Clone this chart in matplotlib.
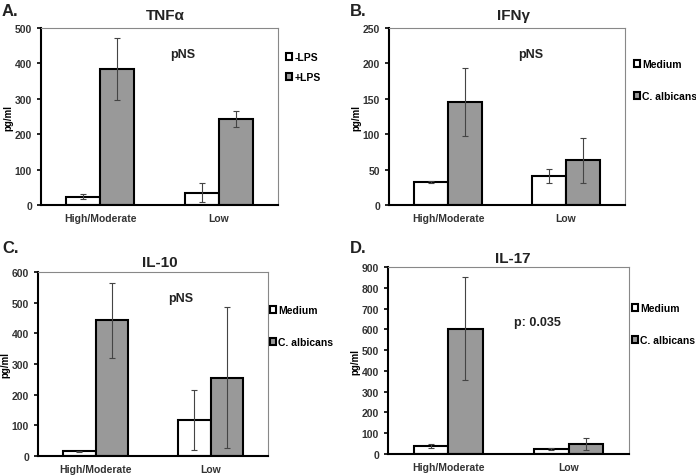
import matplotlib
matplotlib.use("Agg")
import matplotlib.pyplot as plt
import numpy as np

plt.rcParams["font.family"] = ["Liberation Sans", "DejaVu Sans"]
plt.rcParams["font.weight"] = "bold"

categories = ["High/Moderate", "Low"]

# A. TNFa
tnf_minus = [23, 35]
tnf_minus_lo = [16, 8]
tnf_minus_hi = [32, 62]
tnf_plus = [385, 243]
tnf_plus_lo = [298, 221]
tnf_plus_hi = [473, 266]

# B. IFNg
ifn_med = [32, 41]
ifn_med_lo = [31, 31]
ifn_med_hi = [34, 51]
ifn_ca = [145, 63]
ifn_ca_lo = [98, 31]
ifn_ca_hi = [193, 95]

# C. IL-10
il10_med = [15, 117]
il10_med_lo = [13, 18]
il10_med_hi = [17, 215]
il10_ca = [443, 256]
il10_ca_lo = [320, 25]
il10_ca_hi = [563, 486]

# D. IL-17
il17_med = [38, 25]
il17_med_lo = [30, 20]
il17_med_hi = [46, 30]
il17_ca = [603, 47]
il17_ca_lo = [358, 17]
il17_ca_hi = [850, 77]

fig = plt.figure(figsize=(6.96, 4.77), dpi=100)

panels = [
    dict(rect=[0.0589, 0.568, 0.3405, 0.371], letter="A.", title="TNF\u03b1", ymax=500, step=100,
         s1=(tnf_minus, tnf_minus_lo, tnf_minus_hi), s2=(tnf_plus, tnf_plus_lo, tnf_plus_hi),
         labels=["-LPS", "+LPS"], note="pNS", note_xy=(183, 55), leg_xy=(286, 53), spacing=0.95,
         letter_xy=(2, 12), title_xy=(165, 16)),
    dict(rect=[0.559, 0.568, 0.339, 0.371], letter="B.", title="IFN\u03b3", ymax=250, step=50,
         s1=(ifn_med, ifn_med_lo, ifn_med_hi), s2=(ifn_ca, ifn_ca_lo, ifn_ca_hi),
         labels=["Medium", "C. albicans"], note="pNS", note_xy=(531, 55), leg_xy=(634, 60), spacing=2.1,
         letter_xy=(350, 12), title_xy=(513, 16)),
    dict(rect=[0.0546, 0.0419, 0.3305, 0.3857], letter="C.", title="IL-10", ymax=600, step=100,
         s1=(il10_med, il10_med_lo, il10_med_hi), s2=(il10_ca, il10_ca_lo, il10_ca_hi),
         labels=["Medium", "C. albicans"], note="pNS", note_xy=(181, 299), leg_xy=(270, 306), spacing=2.1,
         letter_xy=(2, 249), title_xy=(160, 263)),
    dict(rect=[0.5575, 0.0461, 0.346, 0.392], letter="D.", title="IL-17", ymax=900, step=100,
         s1=(il17_med, il17_med_lo, il17_med_hi), s2=(il17_ca, il17_ca_lo, il17_ca_hi),
         labels=["Medium", "C. albicans"], note="p: 0.035", note_xy=(537, 323), leg_xy=(632, 304), spacing=2.1,
         letter_xy=(350, 249), title_xy=(513, 259)),
]

W, H = 696.0, 477.0
x = np.arange(len(categories)) + 0.5
w = 1 / 3.5

for p in panels:
    ax = fig.add_axes(p["rect"])
    handles = []
    for k, (vals, lo, hi) in enumerate([p["s1"], p["s2"]]):
        vals = np.array(vals)
        err = [vals - np.array(lo), np.array(hi) - vals]
        color = "white" if k == 0 else "#999999"
        xs = x + (k - 0.5) * w
        b = ax.bar(xs, vals, w, color=color, edgecolor="black", linewidth=1.5, zorder=2)
        ax.errorbar(xs, vals, yerr=err, fmt="none", ecolor="#444444", elinewidth=0.8,
                    capsize=2.5, capthick=0.8, zorder=3)
        handles.append(b)
    ax.set_xlim(0, 2)
    ax.set_ylim(0, p["ymax"])
    ax.set_yticks(np.arange(0, p["ymax"] + 1, p["step"]))
    ax.set_xticks(x)
    ax.set_xticklabels(categories, fontsize=7.5, fontweight="bold", color="#333333")
    ax.tick_params(axis="x", length=0, pad=6)
    ax.tick_params(axis="y", labelsize=7.5, length=3, width=1.2, color="black", labelcolor="#333333")
    for lab in ax.get_yticklabels():
        lab.set_fontweight("bold")
    ax.spines["left"].set_linewidth(1.5)
    ax.spines["bottom"].set_linewidth(1.5)
    ax.spines["top"].set_color("#888888")
    ax.spines["right"].set_color("#888888")
    ax.set_ylabel("pg/ml", fontsize=7, fontweight="bold", labelpad=1)

    fig.text(p["letter_xy"][0] / W, 1 - p["letter_xy"][1] / H, p["letter"], fontsize=12,
             fontweight="bold", va="center", ha="left", color="#222222")
    fig.text(p["title_xy"][0] / W, 1 - p["title_xy"][1] / H, p["title"], fontsize=11,
             fontweight="bold", va="center", ha="center", color="#222222")
    fig.text(p["note_xy"][0] / W, 1 - p["note_xy"][1] / H, p["note"], fontsize=9,
             fontweight="bold", va="center", ha="center", color="#222222")
    fig.legend(handles, p["labels"], loc="upper left",
               bbox_to_anchor=(p["leg_xy"][0] / W, 1 - p["leg_xy"][1] / H),
               frameon=False, fontsize=7.5, handlelength=0.6, handleheight=0.6,
               handletextpad=0.2, labelspacing=p["spacing"], borderpad=0, borderaxespad=0)

fig.savefig("out.png", dpi=100)
